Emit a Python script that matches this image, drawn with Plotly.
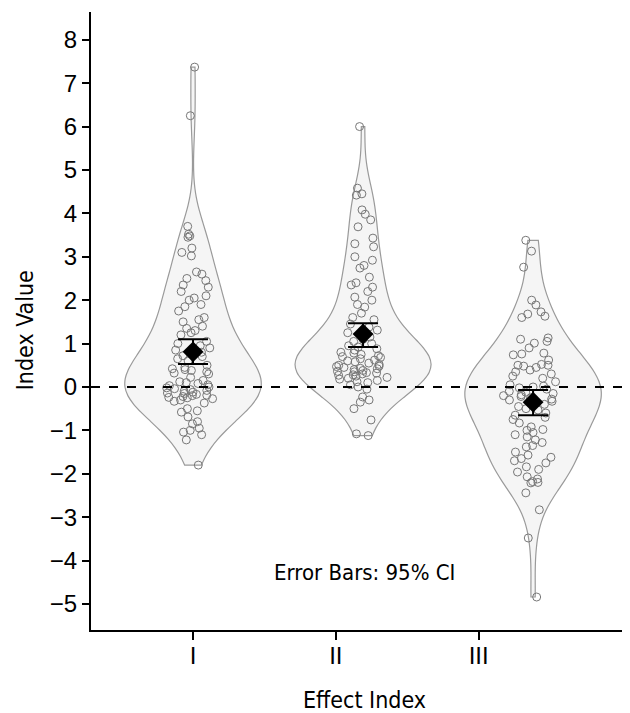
import plotly.graph_objects as go

# ---- data ----
categories = ["I", "II", "III"]

values_I = [7.37, 6.25,
            3.70, 3.52, 3.48, 3.45, 3.20, 3.10, 3.02,
            2.65, 2.60, 2.50, 2.45, 2.35, 2.30, 2.20, 2.10, 2.05, 2.00, 1.90, 1.85, 1.75,
            1.60, 1.55, 1.50, 1.40, 1.35, 1.30, 1.25, 1.20,
            1.05, 1.00, 0.95, 0.90, 0.85, 0.80, 0.75, 0.72, 0.70, 0.65, 0.60,
            0.50, 0.45, 0.42, 0.40, 0.38, 0.35, 0.32, 0.30,
            0.22, 0.15, 0.12, 0.10, 0.08, 0.05, 0.03, 0.00, -0.02, -0.04, -0.06, -0.08,
            -0.10, -0.12, -0.14, -0.15, -0.17, -0.19, -0.20, -0.22, -0.24, -0.25, -0.27,
            -0.30, -0.33, -0.37,
            -0.50, -0.55, -0.58, -0.69, -0.80, -0.85, -0.95, -1.00, -1.04, -1.10, -1.22, -1.80]

values_II = [6.00,
             4.58, 4.45, 4.42, 4.08, 3.98, 3.85, 3.69, 3.43, 3.30, 3.23, 3.00, 2.92, 2.80,
             2.74, 2.53, 2.40, 2.35, 2.30, 2.20, 2.07, 2.00, 1.90, 1.84, 1.70, 1.60,
             1.55, 1.45, 1.38, 1.31, 1.25, 1.15, 1.10, 1.05, 1.00, 0.95, 0.92,
             0.88, 0.85, 0.80, 0.78, 0.75, 0.72, 0.70, 0.68, 0.65, 0.62, 0.60, 0.58, 0.55,
             0.52, 0.50, 0.48, 0.47, 0.45, 0.43, 0.42, 0.40, 0.38, 0.36, 0.35, 0.33, 0.32,
             0.30, 0.28, 0.27, 0.25, 0.22, 0.20, 0.18, 0.15, 0.12, 0.10, 0.05, 0.00, -0.05,
             -0.23, -0.30, -0.35, -0.50, -0.76, -1.08, -1.12]

values_III = [3.38, 3.13, 2.76, 2.00, 1.89, 1.73, 1.68, 1.63, 1.60, 1.13, 1.10, 1.05, 1.01,
              0.90, 0.78, 0.76, 0.74, 0.62, 0.52, 0.50, 0.48, 0.50, 0.45, 0.39, 0.35, 0.30,
              0.25, 0.20, 0.12, 0.05, 0.02, 0.00, -0.02, -0.05, -0.10, -0.12, -0.15, -0.18,
              -0.20, -0.22, -0.25, -0.28, -0.30, -0.33, -0.37, -0.40, -0.45, -0.50, -0.53,
              -0.60, -0.65, -0.70, -0.75, -0.83, -0.92, -0.98, -1.00, -1.05, -1.10, -1.15,
              -1.22, -1.28, -1.35, -1.38, -1.50, -1.57, -1.62, -1.65, -1.70, -1.75, -1.84,
              -1.90, -1.96, -2.07, -2.12, -2.18, -2.20, -2.21, -2.44, -2.83, -3.48, -4.84]

means = [0.81, 1.22, -0.35]
ci_low = [0.53, 0.92, -0.65]
ci_high = [1.10, 1.47, -0.07]

y_ticks = list(range(-5, 9))
y_tick_text = [("\u2212" + str(-v)) if v < 0 else str(v) for v in y_ticks]

# ---- layout constants ----
violin_pos = [0, 1, 2]
tick_pos = [0, 0.84, 1.68]
all_values = [values_I, values_II, values_III]
narrow = "DejaVu Sans Condensed, Liberation Sans Narrow, Liberation Sans, Arial"

fig = go.Figure()

for cat, pos, vals in zip(categories, violin_pos, all_values):
    fig.add_trace(go.Violin(
        x0=pos, y=vals, name=cat,
        orientation="v",
        width=0.8,
        spanmode="hard",
        fillcolor="#f5f5f5",
        line=dict(color="#9a9a9a", width=1.2),
        points="all", pointpos=0, jitter=0.45,
        marker=dict(symbol="circle-open", size=8, color="#777777",
                    line=dict(width=1)),
        box_visible=False, meanline_visible=False,
        hoverinfo="y", showlegend=False,
    ))

fig.add_trace(go.Scatter(
    x=violin_pos, y=means, mode="markers",
    marker=dict(symbol="diamond", size=16, color="black"),
    error_y=dict(type="data", symmetric=False,
                 array=[h - m for h, m in zip(ci_high, means)],
                 arrayminus=[m - l for m, l in zip(means, ci_low)],
                 color="black", thickness=2, width=15),
    showlegend=False,
))

fig.add_shape(type="line", xref="paper", x0=0, x1=1, yref="y", y0=0, y1=0,
              line=dict(color="black", width=2, dash="dash"))

fig.add_annotation(x=1.01, y=-4.27, xref="x", yref="y", text="Error Bars: 95% CI",
                   showarrow=False, xanchor="center", yanchor="middle",
                   font=dict(family=narrow, size=22, color="black"))

fig.add_annotation(x=0.508, y=-0.113, xref="paper", yref="paper", text="Effect Index",
                   showarrow=False, xanchor="center", yanchor="middle",
                   font=dict(family=narrow, size=23, color="black"))

fig.add_annotation(x=-0.1224, y=0.485, xref="paper", yref="paper", text="Index Value",
                   textangle=-90, showarrow=False, xanchor="center", yanchor="middle",
                   font=dict(family=narrow, size=23, color="black"))

fig.update_layout(
    width=622, height=705,
    margin=dict(l=83, r=0, t=4, b=83),
    paper_bgcolor="white", plot_bgcolor="white",
    font=dict(family="Liberation Sans, Arial", color="black"),
    xaxis=dict(range=[-0.6, 2.57], tickvals=tick_pos, ticktext=categories,
               automargin=False,
               showgrid=False, zeroline=False, showline=True, linecolor="black",
               linewidth=2, ticks="outside", ticklen=8, tickwidth=2, tickcolor="black",
               ticklabelstandoff=-5,
               tickfont=dict(size=24)),
    yaxis=dict(range=[-5.6, 8.64], tickvals=y_ticks, ticktext=y_tick_text,
               automargin=False,
               showgrid=False, zeroline=False, showline=True, linecolor="black",
               linewidth=2, ticks="outside", ticklen=7, tickwidth=2, tickcolor="black",
               tickfont=dict(size=24)),
)

fig.write_html("out.html")
